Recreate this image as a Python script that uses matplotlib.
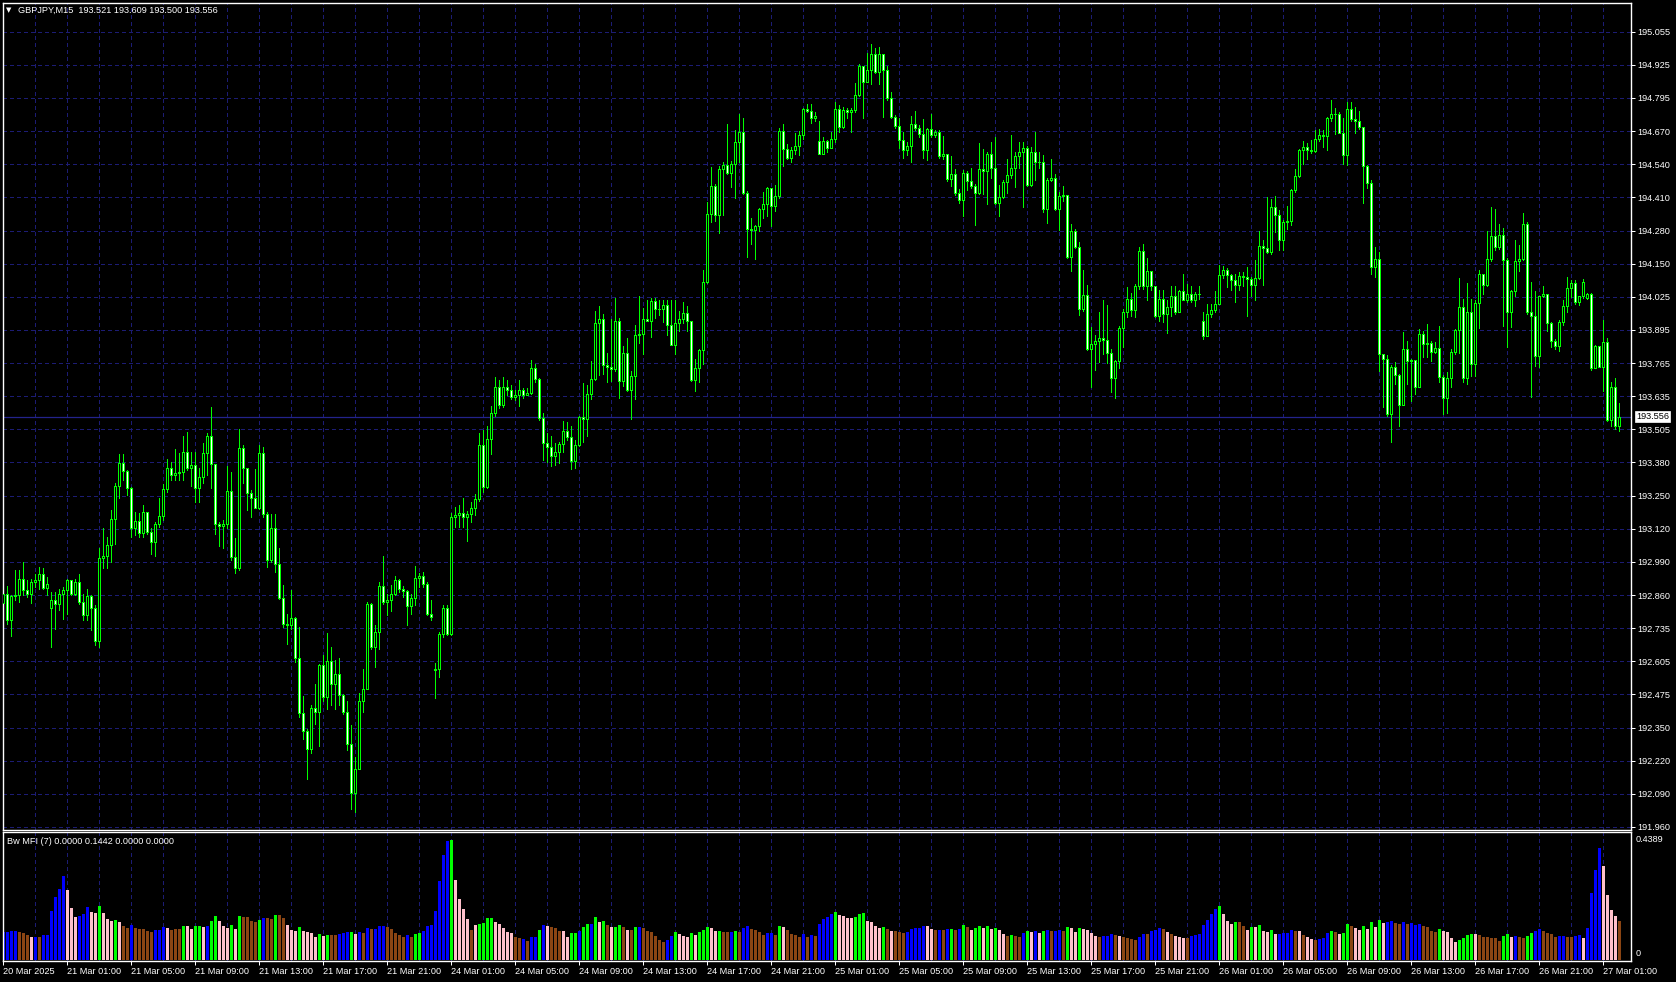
import matplotlib
matplotlib.use("Agg")
import matplotlib.pyplot as plt

plt.rcParams['font.family'] = ['Liberation Sans', 'DejaVu Sans']
plt.rcParams['lines.scale_dashes'] = False

W, H = 1676, 982

# GBPJPY M15 bars, bar 0 = 20 Mar 2025 21:00
closes = [
    192.868, 192.764, 192.858, 192.862, 192.927, 192.881, 192.868, 192.915, 192.920, 192.943,
    192.891, 192.907, 192.845, 192.829, 192.868, 192.884, 192.920, 192.868, 192.914, 192.836,
    192.784, 192.858, 192.813, 192.683, 193.008, 193.014, 193.057, 193.157, 193.287, 193.375,
    193.346, 193.281, 193.125, 193.151, 193.105, 193.184, 193.109, 193.070, 193.138, 193.170,
    193.274, 193.359, 193.330, 193.339, 193.343, 193.421, 193.359, 193.369, 193.278, 193.323,
    193.417, 193.482, 193.372, 193.141, 193.133, 193.138, 193.268, 193.011, 192.966, 193.434,
    193.356, 193.258, 193.242, 193.203, 193.417, 193.177, 193.001, 193.122, 192.985, 192.852,
    192.751, 192.745, 192.774, 192.618, 192.403, 192.335, 192.264, 192.423, 192.407, 192.592,
    192.465, 192.605, 192.517, 192.556, 192.472, 192.407, 192.283, 192.091, 192.186, 192.449,
    192.498, 192.826, 192.660, 192.719, 192.897, 192.836, 192.845, 192.868, 192.923, 192.888,
    192.878, 192.819, 192.852, 192.930, 192.936, 192.907, 192.790, 192.777, 192.576, 192.712,
    192.813, 192.712, 193.167, 193.174, 193.183, 193.167, 193.180, 193.203, 193.235, 193.447,
    193.284, 193.469, 193.570, 193.671, 193.603, 193.674, 193.660, 193.632, 193.641, 193.661,
    193.640, 193.650, 193.745, 193.705, 193.550, 193.456, 193.437, 193.405, 193.418, 193.451,
    193.502, 193.477, 193.386, 193.447, 193.554, 193.548, 193.645, 193.705, 193.922, 193.935,
    193.756, 193.751, 193.741, 193.931, 193.694, 193.805, 193.662, 193.717, 193.876, 193.880,
    193.938, 193.931, 194.006, 193.977, 193.974, 193.993, 193.915, 193.837, 193.922, 193.938,
    193.960, 193.928, 193.701, 193.746, 193.818, 194.081, 194.344, 194.455, 194.341, 194.520,
    194.536, 194.507, 194.542, 194.627, 194.663, 194.429, 194.286, 194.282, 194.299, 194.364,
    194.386, 194.445, 194.377, 194.416, 194.669, 194.598, 194.565, 194.594, 194.611, 194.653,
    194.754, 194.747, 194.721, 194.728, 194.581, 194.630, 194.601, 194.636, 194.754, 194.685,
    194.750, 194.744, 194.750, 194.809, 194.923, 194.860, 194.905, 194.968, 194.900, 194.968,
    194.906, 194.796, 194.724, 194.689, 194.633, 194.594, 194.611, 194.695, 194.679, 194.656,
    194.594, 194.676, 194.653, 194.666, 194.572, 194.578, 194.481, 194.500, 194.429, 194.399,
    194.507, 194.474, 194.455, 194.429, 194.520, 194.513, 194.581, 194.523, 194.390, 194.412,
    194.471, 194.497, 194.523, 194.572, 194.588, 194.601, 194.458, 194.585, 194.546, 194.549,
    194.364, 194.477, 194.487, 194.364, 194.416, 194.419, 194.178, 194.279, 194.217, 193.977,
    194.032, 193.820, 193.840, 193.853, 193.862, 193.856, 193.804, 193.706, 193.775, 193.901,
    193.966, 194.015, 193.973, 194.064, 194.200, 194.067, 194.122, 194.064, 193.950, 194.015,
    193.957, 193.983, 194.025, 193.963, 194.044, 194.012, 194.035, 194.009, 194.035, 194.035,
    193.872, 193.957, 193.973, 193.996, 194.109, 194.126, 194.109, 194.087, 194.071, 194.106,
    194.102, 194.093, 194.070, 194.096, 194.220, 194.215, 194.197, 194.373, 194.340, 194.246,
    194.314, 194.317, 194.438, 194.492, 194.594, 194.607, 194.594, 194.592, 194.639, 194.652,
    194.651, 194.720, 194.735, 194.735, 194.662, 194.577, 194.753, 194.717, 194.707, 194.685,
    194.532, 194.467, 194.139, 194.171, 193.801, 193.781, 193.567, 193.752, 193.719, 193.602,
    193.820, 193.775, 193.778, 193.671, 193.879, 193.840, 193.843, 193.810, 193.823, 193.713,
    193.628, 193.706, 193.807, 193.895, 193.983, 193.706, 193.966, 193.762, 194.000, 194.111,
    194.070, 194.171, 194.259, 194.217, 194.265, 194.165, 193.963, 194.044, 194.161, 194.171,
    194.305, 193.963, 193.947, 193.794, 194.025, 194.033, 193.921, 193.853, 193.830, 193.927,
    193.989, 194.057, 194.076, 194.002, 194.025, 194.080, 194.033, 193.745, 193.833, 193.752,
    193.846, 193.544, 193.671, 193.521, 193.556,
]

highs = [
    192.907, 192.897, 192.862, 192.959, 192.959, 192.990, 192.920, 192.927, 192.946, 192.972,
    192.968, 192.933, 192.875, 192.875, 192.888, 192.894, 192.927, 192.923, 192.927, 192.946,
    192.868, 192.888, 192.862, 192.823, 193.044, 193.122, 193.089, 193.193, 193.297, 193.411,
    193.411, 193.349, 193.284, 193.187, 193.183, 193.213, 193.187, 193.122, 193.148, 193.239,
    193.294, 193.391, 193.382, 193.430, 193.417, 193.482, 193.499, 193.421, 193.421, 193.356,
    193.453, 193.492, 193.596, 193.365, 193.148, 193.154, 193.365, 193.343, 193.083, 193.508,
    193.447, 193.356, 193.271, 193.352, 193.447, 193.440, 193.187, 193.180, 193.180, 193.044,
    192.901, 192.790, 192.881, 192.777, 192.738, 192.468, 192.342, 192.433, 192.517, 192.595,
    192.631, 192.715, 192.660, 192.608, 192.618, 192.478, 192.452, 192.355, 192.231, 192.481,
    192.576, 192.836, 192.832, 192.745, 192.914, 193.014, 192.868, 192.901, 192.936, 192.927,
    192.897, 192.881, 192.868, 192.975, 192.949, 192.953, 192.914, 192.842, 192.598, 192.719,
    192.823, 192.823, 193.183, 193.206, 193.213, 193.242, 193.190, 193.226, 193.255, 193.492,
    193.505, 193.521, 193.599, 193.710, 193.700, 193.710, 193.700, 193.680, 193.660, 193.700,
    193.670, 193.670, 193.778, 193.760, 193.707, 193.570, 193.493, 193.480, 193.454, 193.460,
    193.541, 193.538, 193.522, 193.467, 193.558, 193.688, 193.681, 193.772, 193.970, 193.987,
    193.957, 193.805, 193.935, 194.019, 193.941, 193.831, 193.863, 193.736, 193.912, 194.026,
    193.980, 194.009, 194.019, 194.019, 194.009, 194.009, 194.009, 194.009, 194.009, 193.970,
    194.003, 193.987, 193.925, 193.782, 193.821, 194.126, 194.393, 194.529, 194.464, 194.533,
    194.546, 194.695, 194.552, 194.672, 194.734, 194.718, 194.435, 194.331, 194.302, 194.368,
    194.433, 194.451, 194.442, 194.458, 194.679, 194.695, 194.617, 194.607, 194.659, 194.669,
    194.760, 194.773, 194.773, 194.741, 194.708, 194.646, 194.633, 194.663, 194.780, 194.770,
    194.763, 194.757, 194.757, 194.857, 194.929, 194.923, 194.971, 195.007, 194.991, 194.994,
    194.965, 194.923, 194.819, 194.731, 194.718, 194.663, 194.624, 194.728, 194.747, 194.692,
    194.715, 194.680, 194.734, 194.672, 194.672, 194.650, 194.578, 194.572, 194.520, 194.442,
    194.516, 194.513, 194.526, 194.464, 194.620, 194.598, 194.585, 194.624, 194.646, 194.458,
    194.477, 194.559, 194.653, 194.585, 194.624, 194.624, 194.611, 194.607, 194.666, 194.585,
    194.575, 194.487, 194.559, 194.500, 194.432, 194.455, 194.403, 194.308, 194.289, 194.237,
    194.126, 194.071, 193.905, 193.875, 193.963, 194.009, 193.992, 193.820, 193.778, 193.908,
    193.976, 194.061, 194.038, 194.074, 194.216, 194.230, 194.174, 194.122, 194.054, 194.048,
    194.048, 194.009, 194.064, 194.064, 194.048, 194.113, 194.074, 194.067, 194.041, 194.064,
    193.963, 193.996, 193.996, 194.044, 194.148, 194.145, 194.135, 194.113, 194.113, 194.119,
    194.119, 194.139, 194.100, 194.165, 194.278, 194.243, 194.412, 194.402, 194.415, 194.360,
    194.321, 194.376, 194.444, 194.519, 194.600, 194.629, 194.620, 194.633, 194.672, 194.675,
    194.672, 194.724, 194.789, 194.759, 194.743, 194.720, 194.782, 194.782, 194.763, 194.746,
    194.685, 194.535, 194.477, 194.217, 194.197, 193.801, 193.797, 193.758, 193.771, 193.723,
    193.885, 193.853, 193.781, 193.762, 193.898, 193.892, 193.918, 193.853, 193.846, 193.911,
    193.719, 193.729, 193.820, 193.898, 194.096, 194.015, 194.077, 194.015, 194.009, 194.126,
    194.113, 194.278, 194.373, 194.366, 194.308, 194.291, 194.174, 194.048, 194.246, 194.223,
    194.350, 194.314, 194.080, 194.044, 194.028, 194.064, 194.028, 193.924, 193.859, 193.934,
    194.012, 194.100, 194.087, 194.087, 194.028, 194.093, 194.038, 194.038, 193.836, 193.833,
    193.934, 193.862, 193.690, 193.706, 193.609,
]

lows = [
    192.770, 192.751, 192.705, 192.842, 192.836, 192.862, 192.855, 192.832, 192.894, 192.888,
    192.885, 192.862, 192.660, 192.732, 192.803, 192.770, 192.790, 192.862, 192.862, 192.829,
    192.764, 192.764, 192.725, 192.670, 192.660, 192.966, 192.966, 192.992, 193.063, 193.239,
    193.310, 193.252, 193.089, 193.096, 193.089, 193.089, 193.102, 193.024, 193.014, 193.128,
    193.154, 193.265, 193.310, 193.310, 193.310, 193.310, 193.349, 193.287, 193.226, 193.226,
    193.297, 193.330, 193.278, 193.099, 193.053, 193.044, 193.122, 192.998, 192.949, 192.959,
    193.297, 193.193, 193.167, 193.200, 193.196, 193.167, 192.972, 192.992, 192.953, 192.849,
    192.738, 192.673, 192.732, 192.602, 192.387, 192.303, 192.147, 192.247, 192.361, 192.277,
    192.452, 192.420, 192.433, 192.420, 192.433, 192.400, 192.260, 192.030, 192.020, 192.186,
    192.407, 192.498, 192.654, 192.582, 192.654, 192.829, 192.784, 192.800, 192.862, 192.875,
    192.855, 192.745, 192.790, 192.823, 192.894, 192.894, 192.784, 192.764, 192.462, 192.543,
    192.699, 192.706, 192.706, 193.128, 193.128, 193.128, 193.073, 193.148, 193.174, 193.229,
    193.265, 193.281, 193.411, 193.560, 193.590, 193.595, 193.640, 193.625, 193.620, 193.597,
    193.630, 193.640, 193.645, 193.690, 193.545, 193.388, 193.382, 193.363, 193.369, 193.376,
    193.418, 193.467, 193.353, 193.356, 193.441, 193.460, 193.480, 193.626, 193.701, 193.720,
    193.723, 193.691, 193.694, 193.733, 193.629, 193.675, 193.655, 193.548, 193.626, 193.844,
    193.801, 193.928, 193.866, 193.941, 193.954, 193.925, 193.876, 193.834, 193.801, 193.889,
    193.922, 193.889, 193.697, 193.658, 193.691, 193.762, 194.078, 194.315, 194.318, 194.273,
    194.341, 194.503, 194.451, 194.406, 194.549, 194.425, 194.178, 194.227, 194.172, 194.279,
    194.331, 194.338, 194.299, 194.357, 194.409, 194.533, 194.559, 194.546, 194.578, 194.575,
    194.637, 194.741, 194.698, 194.708, 194.578, 194.585, 194.585, 194.601, 194.624, 194.666,
    194.682, 194.718, 194.666, 194.741, 194.806, 194.718, 194.861, 194.851, 194.893, 194.851,
    194.724, 194.789, 194.718, 194.682, 194.604, 194.565, 194.575, 194.549, 194.672, 194.646,
    194.562, 194.555, 194.646, 194.646, 194.565, 194.559, 194.474, 194.455, 194.419, 194.390,
    194.338, 194.438, 194.448, 194.302, 194.422, 194.425, 194.383, 194.487, 194.386, 194.338,
    194.409, 194.429, 194.487, 194.451, 194.523, 194.373, 194.455, 194.455, 194.477, 194.526,
    194.354, 194.311, 194.474, 194.360, 194.282, 194.396, 194.175, 194.123, 194.214, 193.954,
    193.970, 193.815, 193.671, 193.739, 193.768, 193.801, 193.765, 193.654, 193.628, 193.745,
    193.827, 193.944, 193.947, 193.944, 194.054, 194.054, 194.012, 194.048, 193.944, 193.931,
    193.924, 193.882, 193.950, 193.957, 193.963, 194.009, 194.002, 194.005, 193.986, 194.015,
    193.859, 193.927, 193.944, 193.966, 194.002, 194.096, 194.061, 194.048, 194.002, 194.048,
    194.064, 193.950, 194.028, 194.009, 194.093, 194.070, 194.194, 194.191, 194.275, 194.204,
    194.204, 194.288, 194.301, 194.431, 194.490, 194.542, 194.558, 194.584, 194.587, 194.629,
    194.607, 194.594, 194.707, 194.655, 194.659, 194.542, 194.538, 194.707, 194.659, 194.678,
    194.389, 194.447, 194.113, 194.100, 193.736, 193.593, 193.560, 193.459, 193.684, 193.521,
    193.602, 193.684, 193.619, 193.645, 193.745, 193.788, 193.788, 193.775, 193.804, 193.690,
    193.567, 193.573, 193.674, 193.801, 193.804, 193.690, 193.684, 193.716, 193.716, 193.901,
    194.035, 194.064, 194.161, 194.204, 194.210, 193.908, 193.827, 193.905, 194.028, 194.122,
    194.165, 193.957, 193.632, 193.755, 193.752, 194.022, 193.892, 193.827, 193.820, 193.814,
    193.914, 193.966, 194.022, 193.996, 193.992, 194.018, 194.015, 193.739, 193.752, 193.749,
    193.658, 193.541, 193.521, 193.508, 193.500,
]

# opens that do not equal the previous close (first bar, weekend and midnight gaps)
gap_opens = {0: 192.830, 12: 192.813, 108: 192.572, 204: 194.630, 300: 193.931, 396: 194.018}

# Bill Williams MFI histogram
mfi = [
    0.101, 0.102, 0.106, 0.106, 0.101, 0.098, 0.091, 0.084, 0.084, 0.084,
    0.091, 0.091, 0.179, 0.230, 0.260, 0.306, 0.256, 0.191, 0.158, 0.161,
    0.167, 0.195, 0.176, 0.173, 0.197, 0.171, 0.150, 0.143, 0.146, 0.138,
    0.126, 0.118, 0.128, 0.116, 0.113, 0.113, 0.107, 0.104, 0.108, 0.108,
    0.121, 0.116, 0.110, 0.113, 0.113, 0.124, 0.124, 0.115, 0.124, 0.124,
    0.121, 0.126, 0.143, 0.161, 0.143, 0.124, 0.118, 0.128, 0.113, 0.161,
    0.157, 0.157, 0.143, 0.139, 0.146, 0.154, 0.152, 0.150, 0.165, 0.165,
    0.155, 0.128, 0.110, 0.106, 0.121, 0.106, 0.102, 0.099, 0.084, 0.095,
    0.089, 0.091, 0.091, 0.091, 0.095, 0.099, 0.102, 0.102, 0.095, 0.102,
    0.099, 0.117, 0.113, 0.113, 0.124, 0.124, 0.121, 0.113, 0.099, 0.091,
    0.084, 0.091, 0.084, 0.095, 0.099, 0.106, 0.124, 0.128, 0.179, 0.289,
    0.384, 0.435, 0.4389, 0.293, 0.223, 0.187, 0.150, 0.110, 0.128, 0.132,
    0.135, 0.154, 0.154, 0.139, 0.132, 0.117, 0.102, 0.099, 0.084, 0.080,
    0.077, 0.069, 0.084, 0.084, 0.110, 0.128, 0.124, 0.121, 0.117, 0.106,
    0.106, 0.084, 0.099, 0.099, 0.106, 0.121, 0.132, 0.132, 0.157, 0.139,
    0.143, 0.128, 0.121, 0.121, 0.128, 0.121, 0.110, 0.110, 0.121, 0.121,
    0.117, 0.106, 0.102, 0.088, 0.073, 0.066, 0.073, 0.088, 0.102, 0.095,
    0.088, 0.084, 0.099, 0.091, 0.102, 0.110, 0.121, 0.117, 0.106, 0.106,
    0.102, 0.102, 0.102, 0.106, 0.102, 0.117, 0.124, 0.113, 0.110, 0.102,
    0.091, 0.099, 0.099, 0.091, 0.124, 0.121, 0.110, 0.095, 0.091, 0.084,
    0.095, 0.084, 0.091, 0.088, 0.132, 0.150, 0.157, 0.168, 0.176, 0.165,
    0.161, 0.154, 0.154, 0.157, 0.168, 0.172, 0.143, 0.139, 0.124, 0.117,
    0.121, 0.113, 0.106, 0.106, 0.102, 0.099, 0.102, 0.113, 0.117, 0.117,
    0.124, 0.124, 0.113, 0.110, 0.110, 0.110, 0.113, 0.113, 0.110, 0.113,
    0.128, 0.121, 0.110, 0.117, 0.124, 0.117, 0.124, 0.113, 0.117, 0.110,
    0.095, 0.088, 0.091, 0.088, 0.084, 0.099, 0.106, 0.102, 0.106, 0.099,
    0.106, 0.110, 0.106, 0.106, 0.110, 0.106, 0.121, 0.117, 0.102, 0.117,
    0.113, 0.110, 0.099, 0.088, 0.084, 0.088, 0.088, 0.095, 0.091, 0.088,
    0.084, 0.080, 0.077, 0.073, 0.084, 0.095, 0.095, 0.106, 0.110, 0.117,
    0.113, 0.102, 0.095, 0.088, 0.084, 0.080, 0.080, 0.088, 0.091, 0.095,
    0.128, 0.146, 0.168, 0.187, 0.197, 0.168, 0.143, 0.132, 0.139, 0.139,
    0.124, 0.110, 0.121, 0.121, 0.128, 0.106, 0.102, 0.110, 0.095, 0.095,
    0.099, 0.099, 0.110, 0.106, 0.106, 0.091, 0.084, 0.077, 0.073, 0.077,
    0.080, 0.099, 0.106, 0.102, 0.095, 0.099, 0.132, 0.124, 0.117, 0.110,
    0.124, 0.113, 0.139, 0.121, 0.146, 0.135, 0.139, 0.143, 0.135, 0.132,
    0.139, 0.132, 0.135, 0.128, 0.132, 0.124, 0.121, 0.106, 0.102, 0.113,
    0.106, 0.102, 0.080, 0.066, 0.073, 0.080, 0.091, 0.095, 0.095, 0.091,
    0.084, 0.084, 0.080, 0.080, 0.069, 0.088, 0.095, 0.084, 0.088, 0.084,
    0.080, 0.088, 0.099, 0.106, 0.113, 0.106, 0.099, 0.095, 0.084, 0.088,
    0.088, 0.084, 0.084, 0.088, 0.091, 0.080, 0.117, 0.245, 0.329, 0.408,
    0.344, 0.238, 0.183, 0.161, 0.1442,
]

# B = blue (fake), N = brown (fade), P = pink (squat), G = green
mfi_codes = (
    "BBBBNNNPBN" "BBBBBBPPPB" "BBPPGPPPGP" "NNBNNNNNBB" "BPNNNGPPGG"
    "PBGGPPPGPG" "NNNNGBNNGN" "NPPPGPPPPG" "PGNNBBBGPB" "NBNBBBNNNN"
    "NBNGGBBBBB" "BBGPPPPNPG" "GGGPPPPPNN" "BNBBGBPNNN" "PPGGBGGBGP"
    "GNPGGNPNGB" "NNNNNNBBGP" "PPGPGGGPPG" "NNBGNBBNNN" "NBBNGPNNNN"
    "BNBNBBBBGP" "PPPGGGPPPP" "GNPNNNBBBB" "BPPNBNBGNB" "GNPGGPGPGP"
    "PNGNNBGPBP" "GBNBBNGPPG" "PPPPNBBBNP" "NNNNBBNBBB" "NPNPPPNBBB"
    "BBBBGPPPGN" "NPGPGPPGPB" "BBBNPNPPNB" "BBGNPGGNPP" "GPGPGPBBNN"
    "BNBBBNNNNG" "PPPPGGGGPN" "NNNNNGGPBN" "NGGBBNNNNB" "BNNBBPBBBB"
    "PPPPN"
)
mfi_colors = {'B': '#0000ff', 'N': '#8b4513', 'P': '#ffc0cb', 'G': '#00ff00'}

price_labels = [
    "191.960", "192.090", "192.220", "192.350", "192.475", "192.605", "192.735",
    "192.860", "192.990", "193.120", "193.250", "193.380", "193.505", "193.635",
    "193.765", "193.895", "194.025", "194.150", "194.280", "194.410", "194.540",
    "194.670", "194.795", "194.925", "195.055",
]
time_labels = [
    "20 Mar 2025", "21 Mar 01:00", "21 Mar 05:00", "21 Mar 09:00", "21 Mar 13:00",
    "21 Mar 17:00", "21 Mar 21:00", "24 Mar 01:00", "24 Mar 05:00", "24 Mar 09:00",
    "24 Mar 13:00", "24 Mar 17:00", "24 Mar 21:00", "25 Mar 01:00", "25 Mar 05:00",
    "25 Mar 09:00", "25 Mar 13:00", "25 Mar 17:00", "25 Mar 21:00", "26 Mar 01:00",
    "26 Mar 05:00", "26 Mar 09:00", "26 Mar 13:00", "26 Mar 17:00", "26 Mar 21:00",
    "27 Mar 01:00",
]
last_price = 193.556

GRID = '#1c1c74'
CANDLE = '#00ff00'
FS = 6.6


def fx(px):
    return px / W


def fy(py):
    return 1 - py / H


n = len(closes)
xs = list(range(n))
opens = [gap_opens.get(i, closes[i - 1] if i else closes[0]) for i in xs]
hi = [max(h, o, c) for h, o, c in zip(highs, opens, closes)]
lo = [min(l, o, c) for l, o, c in zip(lows, opens, closes)]

fig = plt.figure(figsize=(W / 100, H / 100), dpi=100, facecolor='black')
ax = fig.add_axes([fx(2.5), fy(830), fx(1631) - fx(2.5), fy(3) - fy(830)])
ax2 = fig.add_axes([fx(2.5), fy(961), fx(1631) - fx(2.5), fy(832) - fy(961)])

step = (195.055 - 191.960) / 24
levels = [191.960 + k * step for k in range(25)]
px_step = (827.0 - 31.7) / 24
ax.set_ylim(191.960 - 3.0 / px_step * step, 195.055 + 28.7 / px_step * step)
xlim = (-0.2, 406.9)
ax.set_xlim(*xlim)
ax2.set_xlim(*xlim)
ax2.set_ylim(-0.4389 / 120, 0.4389 + 8 * 0.4389 / 120)

for a in (ax, ax2):
    a.set_facecolor('black')
    for s in a.spines.values():
        s.set_color('white')
        s.set_linewidth(1.0)
    for gx in range(8, 407, 8):
        a.axvline(gx, color=GRID, lw=0.72, dashes=(2.2, 2.2), zorder=0.5, antialiased=False)

for lv in levels:
    ax.axhline(lv, color=GRID, lw=0.72, dashes=(2.2, 2.2), zorder=0.5, antialiased=False)
ax.axhline(last_price, color='#23238c', lw=0.9, zorder=0.6)

# candles
ax.vlines(xs, lo, hi, color=CANDLE, lw=0.72, zorder=2, antialiased=False)
bottoms = [min(o, c) for o, c in zip(opens, closes)]
heights = [max(abs(c - o), 0.0004) for o, c in zip(opens, closes)]
fills = ['black' if c >= o else 'white' for o, c in zip(opens, closes)]
ax.bar(xs, heights, bottom=bottoms, width=0.5, color=fills, edgecolor=CANDLE,
       linewidth=0.72, zorder=3, antialiased=False)

ax.set_xticks([])
ax.yaxis.tick_right()
ax.set_yticks(levels)
ax.set_yticklabels(price_labels)
ax.tick_params(axis='y', colors='white', length=3, width=0.72, pad=1.5, labelsize=FS)

# MFI histogram
ax2.bar(xs, mfi, width=0.75, color=[mfi_colors[c] for c in mfi_codes], linewidth=0,
        zorder=2, antialiased=False)
ax2.set_yticks([])
ax2.set_xticks(list(range(0, 401, 16)))
ax2.set_xticklabels(time_labels)
ax2.tick_params(axis='x', colors='white', length=3, width=0.72, pad=1.5, labelsize=FS)
for lbl in ax2.get_xticklabels():
    lbl.set_horizontalalignment('left')

# texts
fig.text(fx(6), fy(10), "\u25bc", color='white', fontsize=5, va='center', ha='left',
         family=['DejaVu Sans'])
fig.text(fx(18), fy(10), "GBPJPY,M15  193.521 193.609 193.500 193.556", color='white',
         fontsize=FS, va='center', ha='left')
fig.text(fx(7), fy(842), "Bw MFI (7) 0.0000 0.1442 0.0000 0.0000", color='white',
         fontsize=FS, va='center', ha='left')
fig.text(fx(1636), fy(839), "0.4389", color='white', fontsize=FS, va='center', ha='left')
fig.text(fx(1636), fy(954), "0", color='white', fontsize=FS, va='center', ha='left')
fig.text(fx(1636), fy(416.5), "193.556", color='black', fontsize=FS, va='center', ha='left',
         bbox=dict(boxstyle='square,pad=0.15', fc='white', ec='white', lw=0.5))

fig.savefig('out.png', dpi=100, facecolor='black')
